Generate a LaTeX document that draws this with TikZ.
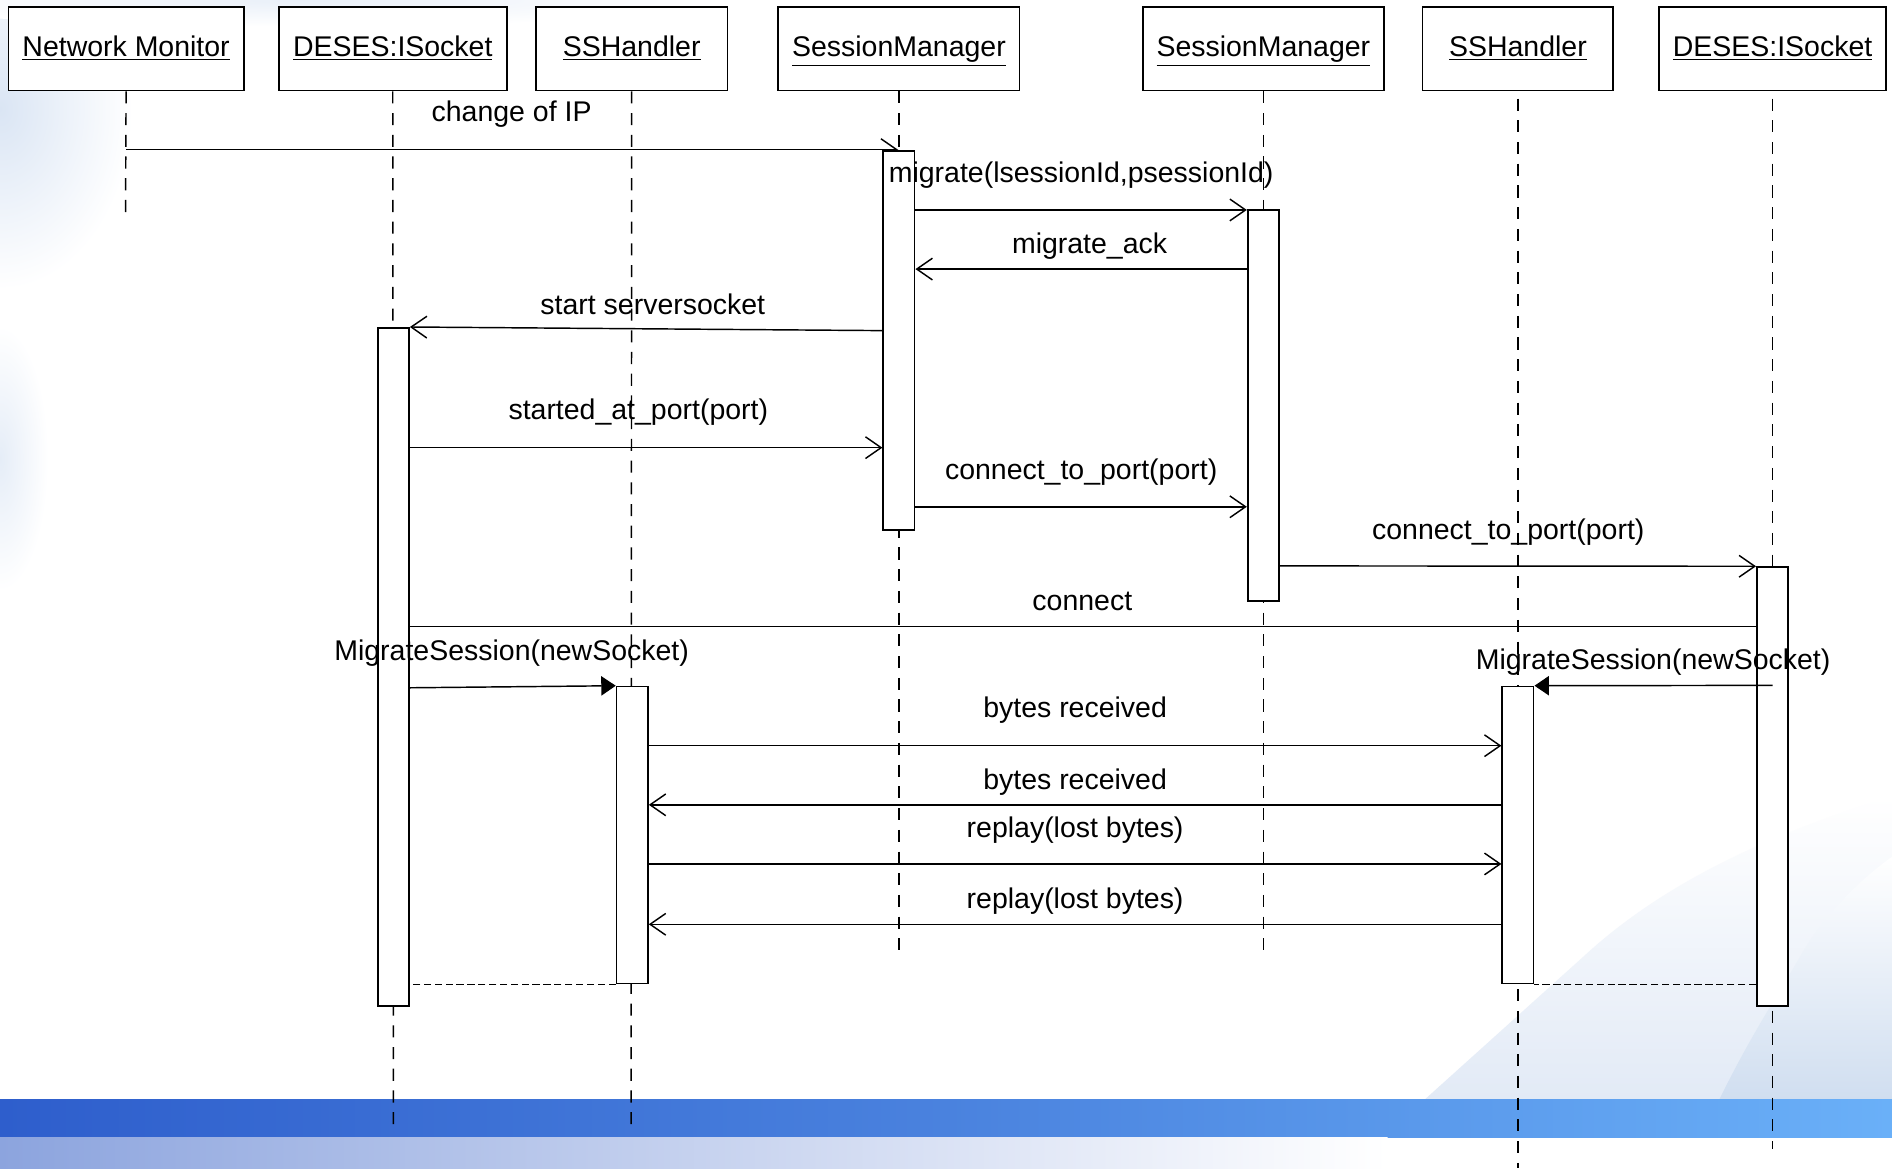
\documentclass[tikz,border=0pt]{standalone}
\usepackage{fontspec}
\setmainfont{Liberation Sans}
\usetikzlibrary{arrows.meta}
\definecolor{barL}{RGB}{46,94,204}
\definecolor{barM}{RGB}{74,130,222}
\definecolor{barR}{RGB}{106,176,248}
\definecolor{lowL}{RGB}{140,164,222}
\definecolor{paleA}{RGB}{226,234,246}
\definecolor{paleB}{RGB}{208,222,240}
\definecolor{paleC}{RGB}{218,229,244}
\begin{document}
\begin{tikzpicture}[x=0.5pt,y=-0.5pt,
  font=\fontsize{11.8}{14}\selectfont,
  hdr/.style={draw, fill=white, line width=0.7pt, inner sep=0pt, minimum height=34.5pt, text height=8.4pt, text depth=2.4pt},
  act/.style={draw, fill=white, line width=0.7pt, inner sep=0pt, minimum width=13pt},
  life/.style={line width=0.6pt, dash pattern=on 5pt off 4pt},
  msg/.style={line width=0.6pt, -{Straight Barb[length=6.5pt,width=9pt,line width=0.6pt]}},
  halfmsg/.style={line width=0.6pt, -{Straight Barb[left,length=6.5pt,width=9pt,line width=0.6pt]}},
  callmsg/.style={line width=0.6pt, -{Triangle[length=6pt,width=8pt]}},
  plainmsg/.style={line width=0.6pt},
  retmsg/.style={line width=0.6pt, dash pattern=on 3pt off 1.5pt},
  lbl/.style={anchor=base, inner sep=0pt},
]
\useasboundingbox (0,0) rectangle (1568,968);
% ---------- background ----------
\fill[white] (0,0) rectangle (1568,968);
\shade[inner color=paleC, outer color=white] (0,90) ellipse [x radius=110, y radius=150];
\shade[inner color=paleC!70!white, outer color=white] (0,380) ellipse [x radius=40, y radius=110];
\shade[inner color=paleC!60!white, outer color=white] (250,0) ellipse [x radius=350, y radius=22];
\shade[top color=white, bottom color=paleA] (1181,911) -- (1312,793) .. controls (1380,730) and (1470,690) .. (1568,660) -- (1568,911) -- cycle;
\shade[top color=white, bottom color=paleB] (1425,911) .. controls (1450,860) and (1470,830) .. (1490,796) .. controls (1510,760) and (1540,730) .. (1568,710) -- (1568,911) -- cycle;
\shade[left color=barL, right color=barR, middle color=barM] (0,911) rectangle (1568,943);
\shade[left color=lowL, right color=white] (0,943) rectangle (1150,968);
% ---------- headers ----------
\node[hdr, minimum width=97.5pt] (nm) at (104.5,40.5) {\underline{Network Monitor}};
\node[hdr, minimum width=94.5pt] (d1) at (325.5,40.5) {\underline{DESES:ISocket}};
\node[hdr, minimum width=79.5pt] (h1) at (523.5,40.5) {\underline{SSHandler}};
\node[hdr, minimum width=100pt] (s1) at (745,40.5) {\underline{SessionManager}};
\node[hdr, minimum width=100pt] (s2) at (1047,40.5) {\underline{SessionManager}};
\node[hdr, minimum width=79pt] (h2) at (1258,40.5) {\underline{SSHandler}};
\node[hdr, minimum width=94pt] (d2) at (1469,40.5) {\underline{DESES:ISocket}};
% ---------- lifeline ends ----------
\coordinate (nmE) at (104,183);
\coordinate (d1E) at (326,935);
\coordinate (h1E) at (523,935);
\coordinate (s1E) at (745,795);
\coordinate (s2E) at (1047,795);
\coordinate (h2E) at (1258,968);
\coordinate (d2E) at (1469,952);
\draw[life] (nm.south) -- (nmE);
\draw[life] (d1.south) -- (d1E);
\draw[life] (h1.south) -- (h1E);
\draw[life] (s1.south) -- (s1E);
\draw[life] (s2.south) -- (s2E);
\draw[life] ([yshift=-3pt]h2.south) -- (h2E);
\draw[life] ([yshift=-3pt]d2.south) -- (d2E);
% ---------- activations ----------
\node[act, minimum height=157pt] (as1) at (745,282) {};
\node[act, minimum height=162pt] (as2) at (1047,336) {};
\node[act, minimum height=281pt] (ad1) at (326,553) {};
\node[act, minimum height=123pt] (ah1) at (524,692) {};
\node[act, minimum height=123pt] (ah2) at (1258,692) {};
\node[act, minimum height=182pt] (ad2) at (1469,652) {};
% ---------- messages ----------
\draw[halfmsg] (nm.south |- 0,124) -- (s1.south |- 0,124);
\node[lbl] (l1) at (424,101) {change of IP};
\draw[msg] (as1.east |- 0,174) -- (as2.west |- 0,174);
\node[lbl] (l2) at (896,151) {migrate(lsessionId,psessionId)};
\draw[msg] (as2.west |- 0,223) -- (as1.east |- 0,223);
\node[lbl] (l3) at (903,210) {migrate\_ack};
\draw[msg] (as1.west |- 0,274) -- (ad1.east |- 0,271);
\node[lbl] (l4) at (541,261) {start serversocket};
\draw[msg] (ad1.east |- 0,371) -- (as1.west |- 0,371);
\node[lbl] (l5) at (529,348) {started\_at\_port(port)};
\draw[msg] (as1.east |- 0,420) -- (as2.west |- 0,420);
\node[lbl] (l6) at (896,397) {connect\_to\_port(port)};
\draw[msg] (as2.east |- 0,469) -- (ad2.north west);
\node[lbl] (l7) at (1250,447) {connect\_to\_port(port)};
\draw[plainmsg] (ad2.west |- 0,519) -- (ad1.east |- 0,519);
\node[lbl] (l8) at (897,506) {connect};
\draw[callmsg] (ad1.east |- 0,570) -- (ah1.north west);
\node[lbl] (l9) at (424,547) {MigrateSession(newSocket)};
\draw[callmsg] (ad2.center |- 0,568) -- (ah2.north east);
\node[lbl] (l10) at (1370,555) {MigrateSession(newSocket)};
\draw[msg] (ah1.east |- 0,618) -- (ah2.west |- 0,618);
\node[lbl] (l11) at (891,595) {bytes received};
\draw[msg] (ah2.west |- 0,667) -- (ah1.east |- 0,667);
\node[lbl] (l12) at (891,654) {bytes received};
\draw[msg] (ah1.east |- 0,716) -- (ah2.west |- 0,716);
\node[lbl] (l13) at (891,694) {replay(lost bytes)};
\draw[msg] (ah2.west |- 0,766) -- (ah1.east |- 0,766);
\node[lbl] (l14) at (891,753) {replay(lost bytes)};
\draw[retmsg] (ah1.south west) -- (ad1.east |- ah1.south west);
\draw[retmsg] (ad2.west |- ah2.south east) -- (ah2.south east);
\end{tikzpicture}
\end{document}
